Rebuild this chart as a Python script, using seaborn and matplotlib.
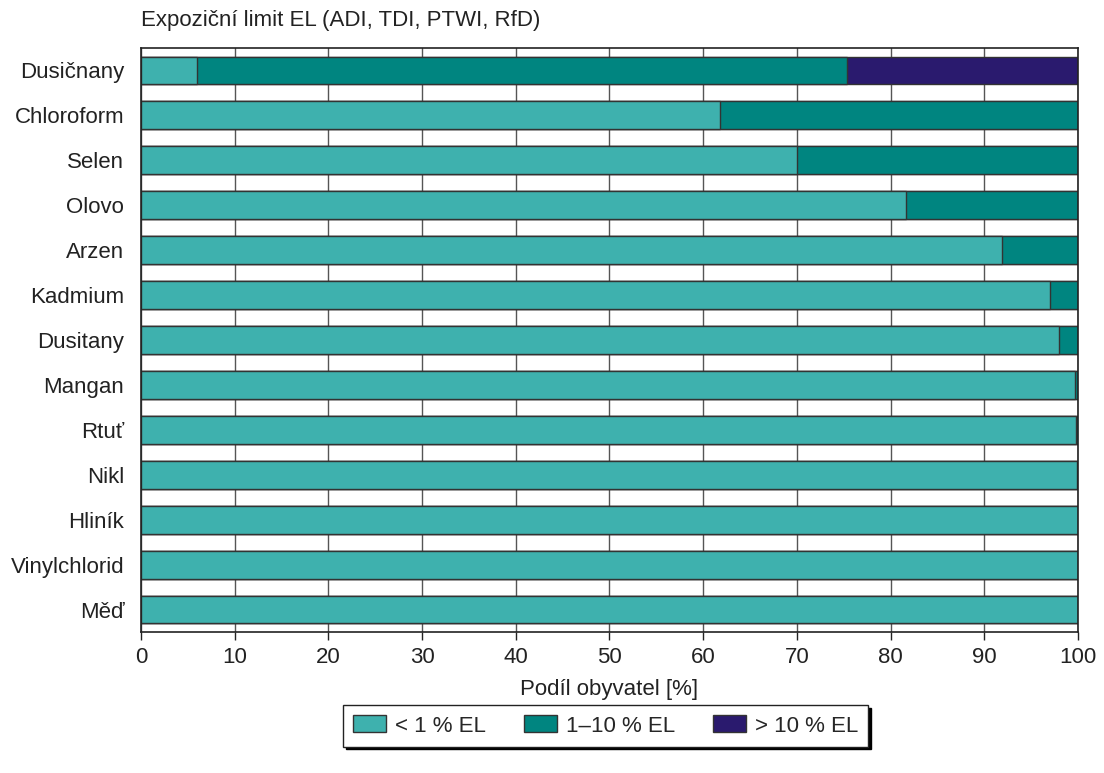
import numpy as np
import pandas as pd
import seaborn as sns
from matplotlib import pyplot as plt
from matplotlib.patches import Patch

# Data
latky = ["Dusičnany", "Chloroform", "Selen", "Olovo", "Arzen", "Kadmium",
         "Dusitany", "Mangan", "Rtuť", "Nikl", "Hliník", "Vinylchlorid", "Měď"]
pod_1 = [6.0, 61.8, 70.0, 81.6, 91.9, 97.0, 98.0, 99.7, 99.8, 99.9, 100, 100, 100]
od_1_do_10 = [69.3, 38.2, 30.0, 18.4, 8.1, 3.0, 2.0, 0.3, 0.2, 0.1, 0, 0, 0]
nad_10 = [24.7, 0, 0, 0, 0, 0, 0, 0, 0, 0, 0, 0, 0]
kategorie = ["< 1 % EL", "1–10 % EL", "> 10 % EL"]
barvy = ["#3eb1ae", "#008580", "#2a1a6e"]

sns.set_style("white")
plt.rcParams['font.family'] = ['Liberation Sans', 'DejaVu Sans']
font = 16

df = pd.DataFrame({"latka": latky, "a": pod_1, "b": od_1_do_10, "c": nad_10})
df["cum_a"] = df["a"]
df["cum_b"] = df["a"] + df["b"]
df["cum_c"] = df["a"] + df["b"] + df["c"]

fig = plt.figure(figsize=(11.04, 7.73), dpi=100)
ax = fig.add_axes([0.1277, 0.1824, 0.8487, 0.7555])
ax.set_axisbelow(True)
ax.grid(axis="x", color="#555555", linewidth=1)

# stacked bars by overlaying cumulative totals
for col, c in zip(["cum_c", "cum_b", "cum_a"], barvy[::-1]):
    sns.barplot(data=df, x=col, y="latka", orient="h", color=c, width=0.62,
                edgecolor="#333333", linewidth=1, saturation=1, ax=ax)

ax.set_xlim(0, 100)
ax.set_ylim(12.5, -0.5)
ax.set_xticks(np.arange(0, 101, 10))
ax.tick_params(axis="x", labelsize=font, length=6, width=1, color="#222222",
               direction="out", bottom=True, pad=5, labelcolor="#222222")
ax.tick_params(axis="y", labelsize=font, length=0, pad=12, labelcolor="#222222")
for s in ax.spines.values():
    s.set_visible(True)
    s.set_color("#222222")
    s.set_linewidth(1.2)
ax.set_ylabel("")
ax.set_xlabel("Podíl obyvatel [%]", fontsize=font, labelpad=8, color="#222222")

fig.text(0.1277, 0.973, "Expoziční limit EL (ADI, TDI, PTWI, RfD)", fontsize=font,
         ha="left", va="center", color="#222222")

handles = [Patch(facecolor=c, edgecolor="#333333", label=k) for c, k in zip(barvy, kategorie)]
leg = fig.legend(handles=handles, loc="center", bbox_to_anchor=(0.5485, 0.0608), ncol=3,
                 fontsize=font, frameon=True, fancybox=False,
                 shadow={"color": "black", "alpha": 1},
                 edgecolor="#222222", handlelength=1.5, handleheight=0.8,
                 handletextpad=0.4, columnspacing=1.7, borderpad=0.45)
leg.get_frame().set_linewidth(1)

plt.savefig("out.png", dpi=100)
plt.close()
